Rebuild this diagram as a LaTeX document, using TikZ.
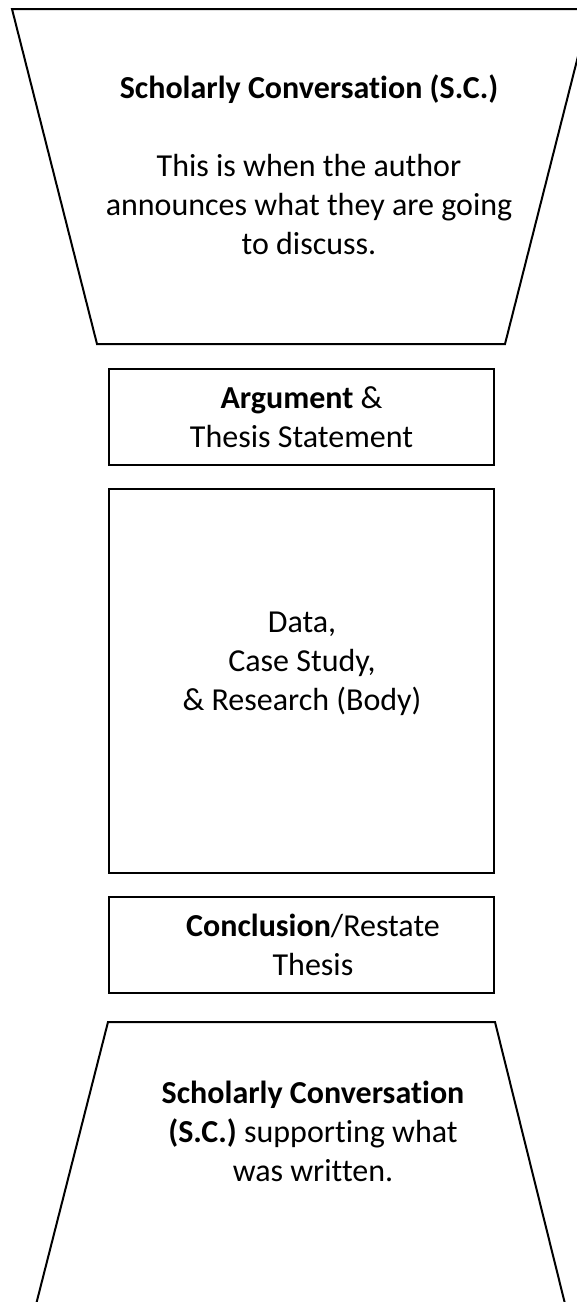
\documentclass[tikz,border=0pt]{standalone}
\usepackage{fontspec}
\setmainfont{Carlito}[Ligatures=NoCommon]
\usetikzlibrary{positioning}

\begin{document}
\begin{tikzpicture}[
  x=0.5pt, y=-0.5pt,
  font=\fontsize{16}{19.5}\selectfont,
  riquadro/.style={draw=black, line width=1pt, align=center,
                   minimum width=192.5pt, minimum height=48pt},
  imbuto/.style={draw=black, line width=1pt, line join=miter},
  testo/.style={align=center, inner sep=0pt}
]
\useasboundingbox (0,0) rectangle (577,1302);

% imbuti (tagliati dal bordo)
\begin{scope}
  \clip (0,0) rectangle (577,1302);
  \draw[imbuto] (12,9) -- (590,9) -- (505,344) -- (97,344) -- cycle;
  \draw[imbuto] (108,1022) -- (495,1022) -- (574,1340) -- (27,1340) -- cycle;
\end{scope}

% riquadri centrali
\node[riquadro] (argomento) at (301.5,417) {\textbf{Argument} \&\\ Thesis Statement};
\node[riquadro, minimum height=192pt] (corpo) at (301.5,681) {};
\node[riquadro] (conclusione) at (301.5,945) {};

% testi
\node[testo] (testosopra) at (309,165)
  {\textbf{Scholarly Conversation (S.C.)}\\[\baselineskip]
   This is when the author\\ announces what they are going\\ to discuss.};
\node[testo] (testocorpo) at (302,664) {Data,\\ Case Study,\\ \& Research (Body)};
\node[testo] (testoconclusione) at (313,945) {\textbf{Conclusion}/Restate\\ Thesis};
\node[testo] (testosotto) at (313,1131)
  {\textbf{Scholarly Conversation}\\ \textbf{(S.C.)} supporting what\\ was written.};

\end{tikzpicture}
\end{document}
